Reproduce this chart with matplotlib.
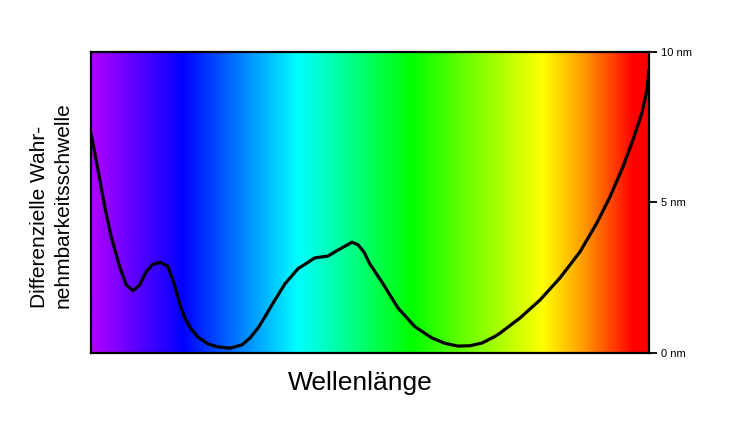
import matplotlib
matplotlib.use("Agg")
import matplotlib.pyplot as plt
import numpy as np
from matplotlib.colors import LinearSegmentedColormap

plt.rcParams['font.family'] = ['Liberation Sans', 'DejaVu Sans']

# curve (x = wavelength in nm, y = threshold in nm)
wl = [400, 403.8, 407.4, 410.9, 415.4, 419.0, 422.6, 426.2, 429.7, 433.3,
      437.5, 441.4, 444.6, 448.5, 450.5, 453.8, 457.5, 462.9, 468.3, 474.7,
      481.2, 485.5, 489.8, 493.5, 497.3, 504.3, 511.3, 520.4, 527.4, 532.8,
      536.6, 540.3, 543.5, 546.8, 550.0, 556.4, 565.0, 574.2, 583.3, 590.3,
      597.3, 603.7, 610.2, 617.2, 619.9, 630.6, 641.4, 652.1, 662.9, 672.0,
      679.0, 686.0, 691.4, 696.2, 698.9, 700]
thr = [7.3, 6.08, 4.86, 3.86, 2.87, 2.26, 2.07, 2.26, 2.7, 2.95,
       3.01, 2.87, 2.32, 1.49, 1.16, 0.8, 0.53, 0.3, 0.2, 0.16,
       0.27, 0.5, 0.83, 1.2, 1.6, 2.3, 2.8, 3.16, 3.22, 3.42,
       3.55, 3.68, 3.6, 3.35, 2.95, 2.36, 1.5, 0.87, 0.5, 0.32,
       0.23, 0.24, 0.33, 0.55, 0.66, 1.16, 1.76, 2.49, 3.36, 4.32,
       5.18, 6.18, 7.08, 7.97, 8.74, 9.4]

# spectrum colour stops
stop_wl = [400, 449, 511, 572, 643, 664, 692, 700]
stop_col = ['#b000ff', '#0000ff', '#00ffff', '#00ff00', '#ffff00', '#ffa000', '#ff0000', '#ff0000']

yticks = [0, 5, 10]
ytick_labels = ['0 nm', '5 nm', '10 nm']

fig = plt.figure(figsize=(7.39, 4.32), dpi=100)
ax = fig.add_axes([0.1231, 0.1829, 0.7551, 0.6968])

pos = [(w - stop_wl[0]) / (stop_wl[-1] - stop_wl[0]) for w in stop_wl]
cmap = LinearSegmentedColormap.from_list('spec', list(zip(pos, stop_col)))
grad = np.linspace(0, 1, 600).reshape(1, -1)
ax.imshow(grad, cmap=cmap, aspect='auto', extent=[400, 700, 0, 10], zorder=0)

ax.plot(wl, thr, color='black', lw=2.3, solid_capstyle='round',
        solid_joinstyle='round', zorder=2)

ax.set_xlim(400, 700)
ax.set_ylim(0, 10)
ax.set_xticks([])
ax.yaxis.tick_right()
ax.set_yticks(yticks)
ax.set_yticklabels(ytick_labels)
ax.tick_params(axis='y', direction='out', length=6, width=1.3, pad=3, labelsize=8)
for s in ax.spines.values():
    s.set_linewidth(1.6)
    s.set_color('black')

fig.text(360 / 739, 1 - 383 / 432, 'Wellenlänge', fontsize=19, ha='center', va='center')
fig.text(51.5 / 739, 1 - 308 / 432, 'Differenzielle Wahr-\nnehmbarkeitsschwelle',
         fontsize=15, rotation=90, ha='center', va='bottom', multialignment='left',
         linespacing=1.3)

fig.savefig('out.png', dpi=100)
